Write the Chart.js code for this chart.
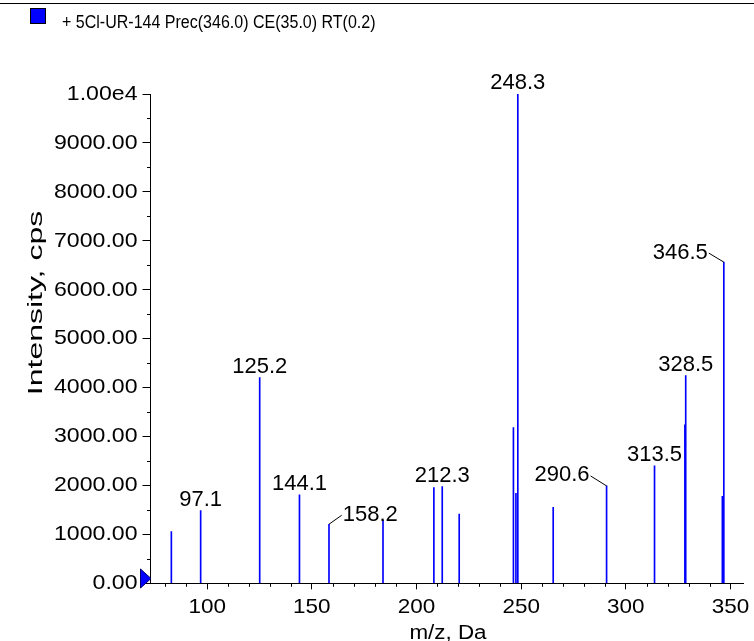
<!DOCTYPE html>
<html>
<head>
<meta charset="utf-8">
<script src="https://cdn.jsdelivr.net/npm/chart.js@4.4.1/dist/chart.umd.min.js"></script>
<style>
  html, body { margin: 0; padding: 0; background: #fff; }
  #wrap { width: 754px; height: 641px; }
</style>
</head>
<body>
<div id="wrap"><canvas id="spectrum" width="754" height="641"></canvas></div>
<script>
// peaks (m/z, intensity in cps)
const mz = [82.9, 96.9, 125.1, 144.1, 158.2, 184.0, 208.3, 212.3, 220.4, 246.3, 247.5, 248.4, 265.3, 290.8, 313.7, 328.2, 328.6, 346.1, 346.8];
const intensity = [1055, 1485, 4205, 1806, 1207, 1294, 1955, 1975, 1417, 3182, 1840, 10000, 1554, 1990, 2399, 3237, 4245, 1779, 6564];

const xTicks = [100, 150, 200, 250, 300, 350];
const yTicks = [0, 1000, 2000, 3000, 4000, 5000, 6000, 7000, 8000, 9000, 10000];

const peakLabels = ['97.1', '125.2', '144.1', '158.2', '212.3', '248.3', '290.6', '313.5', '328.5', '346.5'];
const peakLabelMz = [96.9, 125.1, 144.1, 158.2, 212.3, 248.4, 290.8, 313.7, 328.6, 346.8];

const legendText = '+ 5Cl-UR-144 Prec(346.0) CE(35.0) RT(0.2)';
const xTitle = 'm/z, Da';
const yTitle = 'Intensity, cps';

const FONT = "'Liberation Sans', Arial, sans-serif";

// labels that sit beside their peak with a small leader line
const leaders = {
  '158.2': { dx: 12.7, dy: -9, align: 'left' },
  '290.6': { dx: -16, dy: -10, align: 'right' },
  '346.5': { dx: -15, dy: -9, align: 'right' }
};

// the source draws its text a little wider than plain Arial
function stretchedText(ctx, txt, x, y, sx) {
  ctx.save();
  ctx.translate(x, y);
  ctx.scale(sx, 1);
  ctx.fillText(txt, 0, 0);
  ctx.restore();
}

const decorations = {
  id: 'decorations',
  afterDraw(chart) {
    const { ctx, scales: { x, y } } = chart;
    ctx.save();

    // rule across the top
    ctx.strokeStyle = '#000';
    ctx.lineWidth = 1;
    ctx.beginPath();
    ctx.moveTo(0, 3.5);
    ctx.lineTo(754, 3.5);
    ctx.stroke();

    // legend swatch + text
    ctx.fillStyle = '#0000ff';
    ctx.fillRect(30, 8, 15, 15);
    ctx.strokeStyle = '#000';
    ctx.strokeRect(30.5, 8.5, 15, 15);
    ctx.fillStyle = '#000';
    ctx.font = `18px ${FONT}`;
    ctx.textAlign = 'left';
    ctx.textBaseline = 'alphabetic';
    stretchedText(ctx, legendText, 62, 27.5, 0.89);

    // minor ticks
    ctx.strokeStyle = '#000';
    ctx.beginPath();
    for (let v = 80; v <= 350; v += 10) {
      if (v % 50 === 0) continue;
      const px = Math.round(x.getPixelForValue(v)) + 0.5;
      ctx.moveTo(px, y.bottom);
      ctx.lineTo(px, y.bottom + 3.5);
    }
    for (let v = 500; v < 10000; v += 1000) {
      const py = Math.round(y.getPixelForValue(v)) + 0.5;
      ctx.moveTo(x.left, py);
      ctx.lineTo(x.left - 3.5, py);
    }
    ctx.stroke();

    // tick labels
    ctx.fillStyle = '#000';
    ctx.font = `21px ${FONT}`;
    ctx.textBaseline = 'middle';
    ctx.textAlign = 'right';
    y.ticks.forEach(t => {
      const lbl = t.value === 10000 ? '1.00e4' : t.value.toFixed(2);
      stretchedText(ctx, lbl, 137.5, y.getPixelForValue(t.value), 1.1);
    });
    ctx.textBaseline = 'alphabetic';
    ctx.textAlign = 'center';
    x.ticks.forEach(t => {
      stretchedText(ctx, String(t.value), x.getPixelForValue(t.value), 613, 1.07);
    });

    // blue marker at the zero line
    ctx.fillStyle = '#0000ff';
    ctx.beginPath();
    ctx.moveTo(140.5, 569);
    ctx.lineTo(151, 578.5);
    ctx.lineTo(140.5, 588);
    ctx.closePath();
    ctx.fill();
    ctx.strokeStyle = '#00006a';
    ctx.stroke();

    // peak labels
    ctx.fillStyle = '#000';
    ctx.font = `22px ${FONT}`;
    peakLabels.forEach((txt, i) => {
      const idx = mz.indexOf(peakLabelMz[i]);
      const px = x.getPixelForValue(mz[idx]);
      const py = y.getPixelForValue(intensity[idx]);
      const l = leaders[txt];
      if (l) {
        const ex = px + l.dx, ey = py + l.dy;
        ctx.strokeStyle = '#000';
        ctx.beginPath();
        ctx.moveTo(px, py);
        ctx.lineTo(ex, ey);
        ctx.stroke();
        ctx.textAlign = l.align;
        ctx.fillText(txt, ex + (l.align === 'left' ? 1 : -1), ey + 5.5);
      } else {
        ctx.textAlign = 'center';
        ctx.fillText(txt, px, py - 5);
      }
    });

    // axis titles
    ctx.font = `20px ${FONT}`;
    ctx.textAlign = 'center';
    stretchedText(ctx, xTitle, 448, 639, 1.12);

    ctx.save();
    ctx.translate(42, 303);
    ctx.rotate(-Math.PI / 2);
    ctx.scale(1.6, 1);
    ctx.fillText(yTitle, 0, 0);
    ctx.restore();

    ctx.restore();
  }
};

new Chart(document.getElementById('spectrum'), {
  type: 'bar',
  data: {
    datasets: [{
      data: mz.map((m, i) => ({ x: m, y: intensity[i] })),
      backgroundColor: '#0000ff',
      borderWidth: 0,
      barThickness: 1
    }]
  },
  options: {
    responsive: false,
    animation: false,
    layout: { padding: { top: 94, right: 10.5, left: 0, bottom: 0 } },
    plugins: { legend: { display: false }, tooltip: { enabled: false } },
    scales: {
      x: {
        type: 'linear',
        offset: false,
        min: 72.94,
        max: 356.2,
        afterBuildTicks: s => { s.ticks = xTicks.map(v => ({ value: v })); },
        afterFit: s => { s.height = 57.7; },
        grid: { offset: false, drawOnChartArea: false, color: '#000', tickLength: 6 },
        border: { color: '#000', width: 1 },
        ticks: { display: false }
      },
      y: {
        min: 0,
        max: 10000,
        afterBuildTicks: s => { s.ticks = yTicks.map(v => ({ value: v })); },
        afterFit: s => { s.width = 150.5; },
        grid: { drawOnChartArea: false, color: '#000', tickLength: 8 },
        border: { color: '#000', width: 1 },
        ticks: { display: false }
      }
    }
  },
  plugins: [decorations]
});
</script>
</body>
</html>
